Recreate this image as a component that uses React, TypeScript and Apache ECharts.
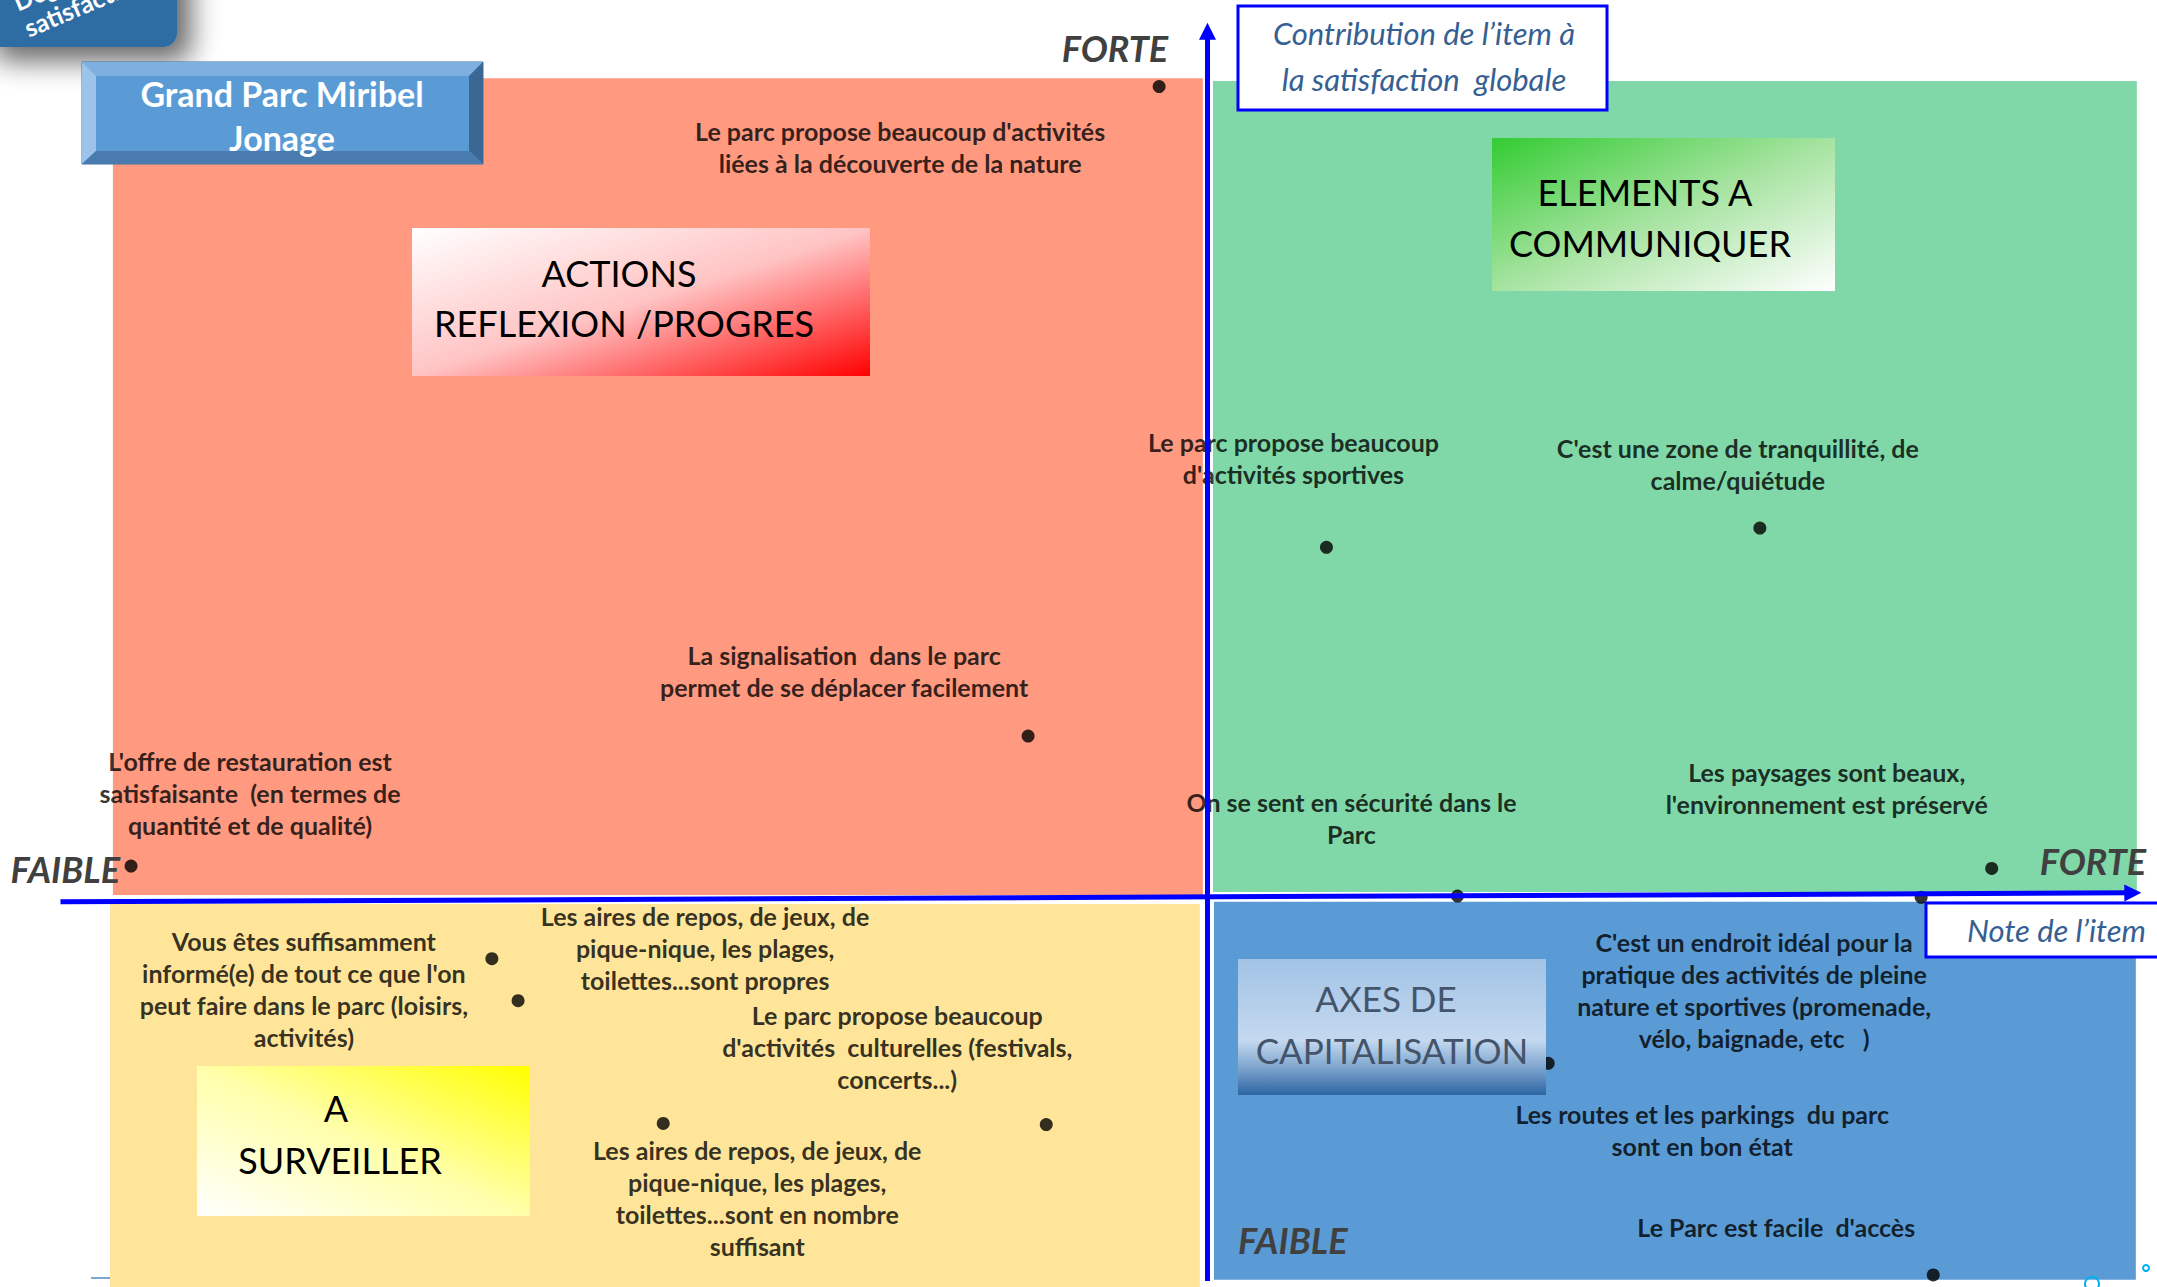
import React, { useEffect, useRef } from "react";
import * as echarts from "echarts";

const W = 2157;
const H = 1287;

// ---- Data ----
const itemNames = [
  "Le parc propose beaucoup d'activités\nliées à la découverte de la nature",
  "Le parc propose beaucoup\nd'activités sportives",
  "C'est une zone de tranquillité, de\ncalme/quiétude",
  "La signalisation  dans le parc\npermet de se déplacer facilement",
  "L'offre de restauration est\nsatisfaisante  (en termes de\nquantité et de qualité)",
  "On se sent en sécurité dans le\nParc",
  "Les paysages sont beaux,\nl'environnement est préservé",
  "C'est un endroit idéal pour la\npratique des activités de pleine\nnature et sportives (promenade,\nvélo, baignade, etc   )",
  "Les routes et les parkings  du parc\nsont en bon état",
  "Le Parc est facile  d'accès",
  "Vous êtes suffisamment\ninformé(e) de tout ce que l'on\npeut faire dans le parc (loisirs,\nactivités)",
  "Les aires de repos, de jeux, de\npique-nique, les plages,\ntoilettes...sont propres",
  "Les aires de repos, de jeux, de\npique-nique, les plages,\ntoilettes...sont en nombre\nsuffisant",
  "Le parc propose beaucoup\nd'activités  culturelles (festivals,\nconcerts...)",
];
// Note de l'item (x)
const noteValues = [51.5, 59.8, 81.3, 45.0, 0.5, 66.3, 92.8, 89.3, 70.8, 89.9, 18.4, 19.7, 26.9, 45.9];
// Contribution de l'item à la satisfaction globale (y)
const contributionValues = [98.8, 60.5, 62.1, 44.8, 34.0, 31.5, 33.8, 31.4, 17.6, 0.0, 26.3, 22.8, 12.6, 12.5];

// ---- Layout (not data) ----
const labelOffsets = [
  [-259, 60], [-33, -89], [-22, -64], [-184, -65], [119, -73], [-106, -78], [-165, -80],
  [-167, 93], [154, 67], [-157, -48], [-188, 30], [187, -53], [94, 75], [-149, -78],
];
const X_MIN = -6, X_MAX = 101, Y_MIN = -1, Y_MAX = 106;
const X_CROSS = 53.9;
const quadrants = [
  { color: "#FF9980", x: [-0.4, 53.67], y: [31.6, 99.5] },
  { color: "#80D7A8", x: [54.17, 100.0], y: [31.85, 99.27] },
  { color: "#FFE599", x: [-0.54, 53.52], y: [-1, 30.85] },
  { color: "#5B9BD5", x: [54.22, 99.95], y: [-0.4, 31.02] },
];
const axisLines = [
  [[X_CROSS, -0.5], [X_CROSS, 103.4]],
  [[-3.0, 31.02], [99.8, 31.77]],
];

const FONT = "Lato";

function boxText(text: string, x: number, y: number, size: number, color = "#000", extra: any = {}) {
  return {
    type: "text", z: 102, x, y,
    style: { text, fill: color, fontFamily: FONT, fontSize: size, align: "center", verticalAlign: "middle", ...extra },
  };
}

export default function App() {
  const ref = useRef<HTMLDivElement>(null);
  useEffect(() => {
    const chart = echarts.init(ref.current!, null, { renderer: "svg" });
    const points = itemNames.map((name, i) => ({ name, value: [noteValues[i], contributionValues[i]] }));
    const labelPoints = points.map((p, i) => ({ ...p, label: { offset: labelOffsets[i] } }));

    const graphic: any[] = [
      // top-left corner tab
      {
        type: "rect", z: 100, shape: { x: -20, y: -60, width: 197, height: 107, r: 14 },
        style: { fill: "#2E6DA4", shadowBlur: 28, shadowColor: "rgba(0,0,0,0.6)", shadowOffsetX: 14, shadowOffsetY: 14 },
      },
      { type: "text", z: 101, x: 19, y: 14, rotation: 0.4, style: { text: "Degré de", fill: "#fff", fontFamily: FONT, fontWeight: "bold", fontSize: 25, align: "left", verticalAlign: "bottom" } },
      { type: "text", z: 101, x: 30, y: 40, rotation: 0.4, style: { text: "satisfaction", fill: "#fff", fontFamily: FONT, fontWeight: "bold", fontSize: 25, align: "left", verticalAlign: "bottom" } },
      // Grand Parc bevel box
      { type: "rect", z: 100, shape: { x: 82, y: 62, width: 401, height: 102 }, style: { fill: "#5B9BD5", stroke: "#41719C", lineWidth: 1 } },
      { type: "polygon", z: 101, shape: { points: [[82, 62], [483, 62], [469, 76], [96, 76]] }, style: { fill: "#7DAFE0" } },
      { type: "polygon", z: 101, shape: { points: [[82, 62], [96, 76], [96, 151], [82, 164]] }, style: { fill: "#9CC3EA" } },
      { type: "polygon", z: 101, shape: { points: [[483, 62], [483, 164], [469, 151], [469, 76]] }, style: { fill: "#3A6794" } },
      { type: "polygon", z: 101, shape: { points: [[82, 164], [96, 151], [469, 151], [483, 164]] }, style: { fill: "#4A7BAE" } },
      boxText("Grand Parc Miribel\nJonage", 282, 115, 34, "#fff", { fontWeight: "bold", lineHeight: 44 }),
      // ACTIONS box
      {
        type: "rect", z: 100, shape: { x: 412, y: 228, width: 458, height: 148 },
        style: { fill: { type: "linear", x: 0, y: 0, x2: 1, y2: 1, colorStops: [{ offset: 0, color: "#FFFFFF" }, { offset: 0.5, color: "#FFC4C4" }, { offset: 1, color: "#FF0000" }] } },
      },
      boxText("ACTIONS", 619, 273, 36),
      boxText("REFLEXION /PROGRES", 624, 323, 36),
      // ELEMENTS box
      {
        type: "rect", z: 100, shape: { x: 1492, y: 138, width: 343, height: 153 },
        style: { fill: { type: "linear", x: 0, y: 0, x2: 1, y2: 1, colorStops: [{ offset: 0, color: "#33CC33" }, { offset: 0.5, color: "#A6E3A0" }, { offset: 1, color: "#FFFFFF" }] } },
      },
      boxText("ELEMENTS A", 1645, 192, 36),
      boxText("COMMUNIQUER", 1650, 243, 36),
      // AXES DE CAPITALISATION box
      {
        type: "rect", z: 100, shape: { x: 1238, y: 959, width: 308, height: 136 },
        style: { fill: { type: "linear", x: 0, y: 0, x2: 0, y2: 1, colorStops: [{ offset: 0, color: "#A2C3E6" }, { offset: 0.6, color: "#C4D9EF" }, { offset: 0.8, color: "#7DA4CE" }, { offset: 1, color: "#2D66A3" }] } },
      },
      boxText("AXES DE", 1386, 998, 35, "#44546A"),
      boxText("CAPITALISATION", 1392, 1050, 35, "#44546A"),
      // A SURVEILLER box
      {
        type: "rect", z: 100, shape: { x: 197, y: 1066, width: 333, height: 150 },
        style: { fill: { type: "linear", x: 0, y: 1, x2: 1, y2: 0, colorStops: [{ offset: 0, color: "#FFFFFF" }, { offset: 0.5, color: "#FFFFAA" }, { offset: 1, color: "#FFFF00" }] } },
      },
      boxText("A", 336, 1108, 36),
      boxText("SURVEILLER", 340, 1160, 36),
      // axis titles
      { type: "rect", z: 100, shape: { x: 1238, y: 6, width: 369, height: 104 }, style: { fill: "#fff", stroke: "#0000FF", lineWidth: 3 } },
      boxText("Contribution de l’item à", 1424, 33, 31, "#366092", { fontStyle: "italic" }),
      boxText("la satisfaction  globale", 1424, 79, 31, "#366092", { fontStyle: "italic" }),
      { type: "rect", z: 100, shape: { x: 1926, y: 903, width: 250, height: 54 }, style: { fill: "#fff", stroke: "#0000FF", lineWidth: 3 } },
      boxText("Note de l’item", 2146, 930, 31, "#366092", { fontStyle: "italic", align: "right" }),
      // FORTE / FAIBLE
      boxText("FORTE", 1168, 48, 36, "#404040", { fontStyle: "italic", fontWeight: "bold", align: "right" }),
      boxText("FAIBLE", 120, 869, 36, "#404040", { fontStyle: "italic", fontWeight: "bold", align: "right" }),
      boxText("FORTE", 2146, 861, 36, "#404040", { fontStyle: "italic", fontWeight: "bold", align: "right" }),
      boxText("FAIBLE", 1238, 1240, 36, "#404040", { fontStyle: "italic", fontWeight: "bold", align: "left" }),
      // small artefacts
      { type: "line", z: 100, shape: { x1: 91, y1: 1278, x2: 110, y2: 1278 }, style: { stroke: "#7EA6D0", lineWidth: 2 } },
      { type: "circle", z: 100, shape: { cx: 2146, cy: 1268, r: 3 }, style: { fill: "none", stroke: "#00B0F0", lineWidth: 2 } },
      { type: "circle", z: 100, shape: { cx: 2092, cy: 1284, r: 7 }, style: { fill: "none", stroke: "#00B0F0", lineWidth: 2 } },
    ];

    const option: any = {
      animation: false,
      grid: { left: 0, right: 0, top: 0, bottom: 0 },
      xAxis: { type: "value", min: X_MIN, max: X_MAX, show: false },
      yAxis: { type: "value", min: Y_MIN, max: Y_MAX, show: false },
      series: [
        {
          type: "scatter", z: 1, data: [], silent: true, clip: false,
          markArea: {
            silent: true,
            label: { show: false },
            itemStyle: { opacity: 1, borderWidth: 0 },
            data: quadrants.map((q) => [
              { xAxis: q.x[0], yAxis: q.y[0], itemStyle: { color: q.color, opacity: 1 } },
              { xAxis: q.x[1], yAxis: q.y[1] },
            ]),
          },
        },
        {
          type: "scatter", z: 2, data: labelPoints, silent: true, clip: false,
          symbolSize: 1, itemStyle: { color: "rgba(0,0,0,0)" },
          emphasis: { disabled: true },
          label: {
            show: true, position: "inside", formatter: "{b}", color: "#000",
            fontFamily: FONT, fontWeight: "bold", fontSize: 25, lineHeight: 32,
            align: "center", verticalAlign: "middle",
          },
        },
        {
          type: "scatter", z: 3, data: [], silent: true, clip: false,
          markLine: {
            silent: true, symbol: ["none", "triangle"], symbolSize: 17,
            label: { show: false },
            lineStyle: { color: "#0000FF", width: 5, type: "solid", opacity: 1 },
            data: axisLines.map(([a, b]) => [{ coord: a }, { coord: b }]),
          },
        },
        {
          type: "scatter", z: 4, data: points, silent: true, clip: false,
          symbolSize: 13, itemStyle: { color: "#000" },
          emphasis: { disabled: true },
        },
      ],
      graphic,
    };
    chart.setOption(option);
    return () => chart.dispose();
  }, []);
  return <div ref={ref} style={{ position: "fixed", left: 0, top: 0, width: W, height: H, background: "#fff" }} />;
}
